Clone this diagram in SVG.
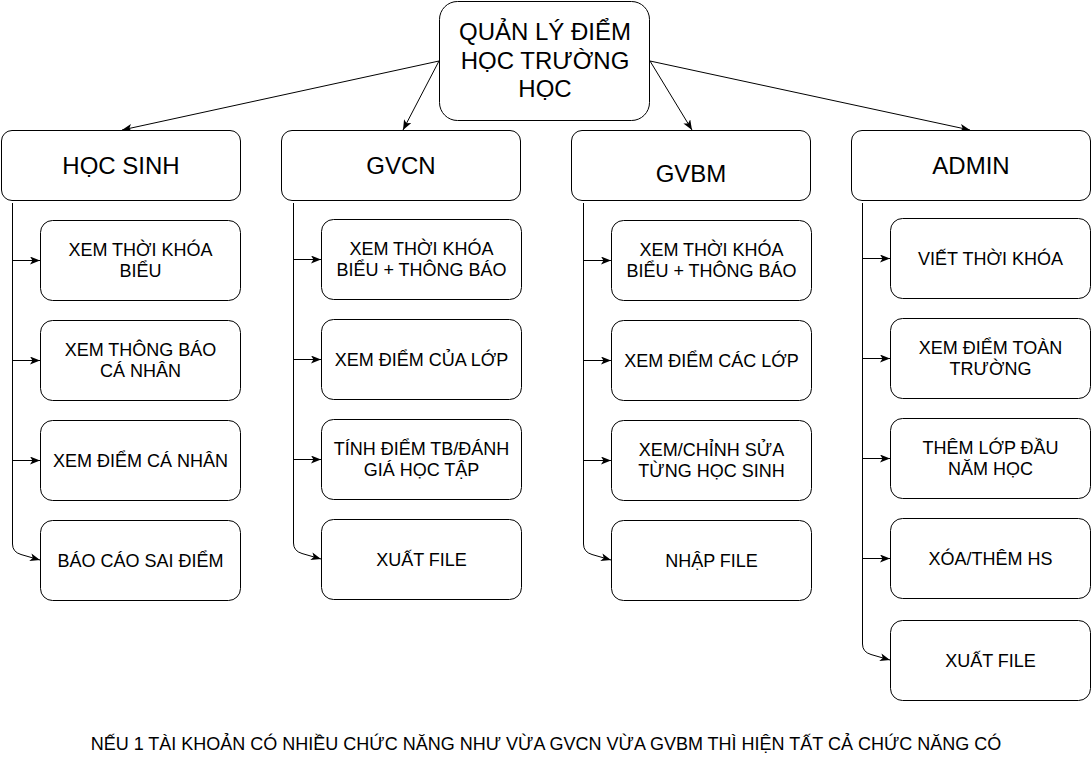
<svg xmlns="http://www.w3.org/2000/svg" width="1091" height="780" viewBox="0 0 1091 780">
<defs>
<marker id="arr" markerUnits="userSpaceOnUse" markerWidth="11" markerHeight="9" refX="10" refY="4" orient="auto">
<path d="M0,0 L10,4 L0,8 L2.5,4 Z" fill="#000"/>
</marker>
<style>
.box{fill:#fff;stroke:#000;stroke-width:1}
.t{font-family:"Liberation Sans",Arial,sans-serif;fill:#000;text-anchor:middle}
.t24{font-size:24px}
.t18{font-size:18px}
.e{fill:none;stroke:#000;stroke-width:1;marker-end:url(#arr)}
</style>
</defs>
<rect width="1091" height="780" fill="#fff"/>
<g id="connectors">
<path class="e" d="M439,61 L122,130"/>
<path class="e" d="M439,61 L403,130"/>
<path class="e" d="M650,61 L692,130"/>
<path class="e" d="M650,61 L970,130"/>
<path class="e" d="M12.5,203 L12.5,260.5 L40,260.5"/>
<path class="e" d="M12.5,203 L12.5,360.5 L40,360.5"/>
<path class="e" d="M12.5,203 L12.5,460.5 L40,460.5"/>
<path class="e" d="M12.5,203 L12.5,544 Q12.5,552 21,554.5 L40,560"/>
<path class="e" d="M293.5,203 L293.5,259.5 L321,259.5"/>
<path class="e" d="M293.5,203 L293.5,359.5 L321,359.5"/>
<path class="e" d="M293.5,203 L293.5,459.5 L321,459.5"/>
<path class="e" d="M293.5,203 L293.5,543 Q293.5,551 302,553.5 L321,559"/>
<path class="e" d="M583.5,203 L583.5,260.5 L611,260.5"/>
<path class="e" d="M583.5,203 L583.5,360.5 L611,360.5"/>
<path class="e" d="M583.5,203 L583.5,460.5 L611,460.5"/>
<path class="e" d="M583.5,203 L583.5,544 Q583.5,552 592,554.5 L611,560"/>
<path class="e" d="M862.5,203 L862.5,258.5 L890,258.5"/>
<path class="e" d="M862.5,203 L862.5,358.5 L890,358.5"/>
<path class="e" d="M862.5,203 L862.5,458.5 L890,458.5"/>
<path class="e" d="M862.5,203 L862.5,558.5 L890,558.5"/>
<path class="e" d="M862.5,203 L862.5,644 Q862.5,652 871,654.5 L890,660"/>
</g>
<g id="root">
<rect class="box" x="439.5" y="1.5" width="210" height="119" rx="18"/>
<text class="t t24" x="545" y="40">QUẢN LÝ ĐIỂM</text>
<text class="t t24" x="545" y="68.5">HỌC TRƯỜNG</text>
<text class="t t24" x="545" y="97">HỌC</text>
</g>
<g id="hocsinh">
<rect class="box" x="1.5" y="130.5" width="239" height="70" rx="10.5"/>
<text class="t t24" x="121" y="173.5">HỌC SINH</text>
</g>
<g id="gvcn">
<rect class="box" x="281.5" y="130.5" width="239" height="70" rx="10.5"/>
<text class="t t24" x="401" y="173.5">GVCN</text>
</g>
<g id="gvbm">
<rect class="box" x="571.5" y="130.5" width="239" height="70" rx="10.5"/>
<text class="t t24" x="691" y="181.5">GVBM</text>
</g>
<g id="admin">
<rect class="box" x="851.5" y="130.5" width="239" height="70" rx="10.5"/>
<text class="t t24" x="971" y="173.5">ADMIN</text>
</g>
<g id="hs1"><rect class="box" x="40.5" y="220.5" width="200" height="80" rx="12"/>
<text class="t t18" x="140.5" y="256">XEM THỜI KHÓA</text><text class="t t18" x="140.5" y="277">BIỂU</text></g>
<g id="hs2"><rect class="box" x="40.5" y="320.5" width="200" height="80" rx="12"/>
<text class="t t18" x="140.5" y="356">XEM THÔNG BÁO</text><text class="t t18" x="140.5" y="377">CÁ NHÂN</text></g>
<g id="hs3"><rect class="box" x="40.5" y="420.5" width="200" height="80" rx="12"/>
<text class="t t18" x="140.5" y="467">XEM ĐIỂM CÁ NHÂN</text></g>
<g id="hs4"><rect class="box" x="40.5" y="520.5" width="200" height="80" rx="12"/>
<text class="t t18" x="140.5" y="567">BÁO CÁO SAI ĐIỂM</text></g>
<g id="cn1"><rect class="box" x="321.5" y="219.5" width="200" height="80" rx="12"/>
<text class="t t18" x="421.5" y="255">XEM THỜI KHÓA</text><text class="t t18" x="421.5" y="276">BIỂU + THÔNG BÁO</text></g>
<g id="cn2"><rect class="box" x="321.5" y="319.5" width="200" height="80" rx="12"/>
<text class="t t18" x="421.5" y="366">XEM ĐIỂM CỦA LỚP</text></g>
<g id="cn3"><rect class="box" x="321.5" y="419.5" width="200" height="80" rx="12"/>
<text class="t t18" x="421.5" y="455">TÍNH ĐIỂM TB/ĐÁNH</text><text class="t t18" x="421.5" y="476">GIÁ HỌC TẬP</text></g>
<g id="cn4"><rect class="box" x="321.5" y="519.5" width="200" height="80" rx="12"/>
<text class="t t18" x="421.5" y="566">XUẤT FILE</text></g>
<g id="bm1"><rect class="box" x="611.5" y="220.5" width="200" height="80" rx="12"/>
<text class="t t18" x="711.5" y="256">XEM THỜI KHÓA</text><text class="t t18" x="711.5" y="277">BIỂU + THÔNG BÁO</text></g>
<g id="bm2"><rect class="box" x="611.5" y="320.5" width="200" height="80" rx="12"/>
<text class="t t18" x="711.5" y="367">XEM ĐIỂM CÁC LỚP</text></g>
<g id="bm3"><rect class="box" x="611.5" y="420.5" width="200" height="80" rx="12"/>
<text class="t t18" x="711.5" y="456">XEM/CHỈNH SỬA</text><text class="t t18" x="711.5" y="477">TỪNG HỌC SINH</text></g>
<g id="bm4"><rect class="box" x="611.5" y="520.5" width="200" height="80" rx="12"/>
<text class="t t18" x="711.5" y="567">NHẬP FILE</text></g>
<g id="ad1"><rect class="box" x="890.5" y="218.5" width="200" height="80" rx="12"/>
<text class="t t18" x="990.5" y="265">VIẾT THỜI KHÓA</text></g>
<g id="ad2"><rect class="box" x="890.5" y="318.5" width="200" height="80" rx="12"/>
<text class="t t18" x="990.5" y="354">XEM ĐIỂM TOÀN</text><text class="t t18" x="990.5" y="375">TRƯỜNG</text></g>
<g id="ad3"><rect class="box" x="890.5" y="418.5" width="200" height="80" rx="12"/>
<text class="t t18" x="990.5" y="454">THÊM LỚP ĐẦU</text><text class="t t18" x="990.5" y="475">NĂM HỌC</text></g>
<g id="ad4"><rect class="box" x="890.5" y="518.5" width="200" height="80" rx="12"/>
<text class="t t18" x="990.5" y="565">XÓA/THÊM HS</text></g>
<g id="ad5"><rect class="box" x="890.5" y="620.5" width="200" height="80" rx="12"/>
<text class="t t18" x="990.5" y="667">XUẤT FILE</text></g>
<g id="note">
<text class="t t18" x="546" y="750">NẾU 1 TÀI KHOẢN CÓ NHIỀU CHỨC NĂNG NHƯ VỪA GVCN VỪA GVBM THÌ HIỆN TẤT CẢ CHỨC NĂNG CÓ</text>
</g>
</svg>
